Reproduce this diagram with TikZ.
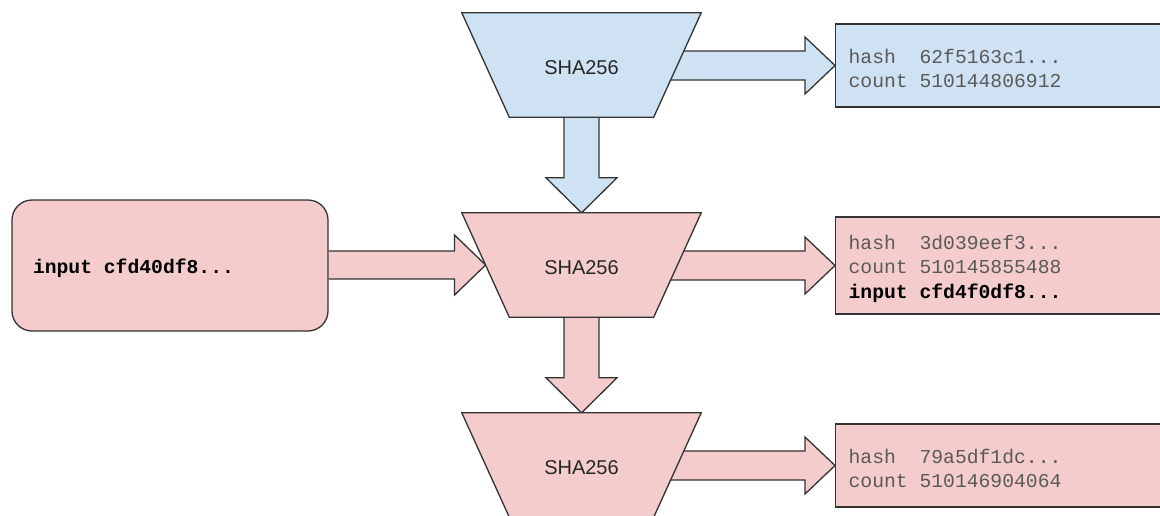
\documentclass[tikz,border=0pt]{standalone}
\usepackage{fontspec}
\setmainfont{Liberation Sans}
\newfontfamily\codefont{Liberation Mono}
\usetikzlibrary{calc,backgrounds}
\definecolor{bluefill}{HTML}{CFE2F3}
\definecolor{redfill}{HTML}{F4CCCC}
\definecolor{edge}{HTML}{333333}
\definecolor{codegray}{HTML}{5A5A5A}
% one full character cell of the monospaced font
\newcommand\monosp{\hspace*{0.6em}}
% taller first line, so the text block sits a little low in its box
\newcommand\firstlinestrut{\rule{0pt}{20.5pt}}
% hashing stage drawn as a funnel-shaped trapezoid behind its label node
\newcommand\hashtrap[2]{%
  \path[shapeedge, fill=#2] (#1.north west) -- (#1.north east)
    -- ([xshift=-47.5pt]#1.south east) -- ([xshift=47.5pt]#1.south west) -- cycle;}
\begin{document}
\begin{tikzpicture}[x=1pt,y=-1pt,
  shapeedge/.style={draw=edge, line width=1.3pt, line join=miter},
  hashstage/.style={minimum width=239pt, minimum height=104pt, inner sep=0pt,
    text height=18pt, text depth=0pt,
    font=\fontsize{20}{24}\selectfont, text=black!85},
  outbox/.style={shapeedge, anchor=west, text width=314pt, inner xsep=13pt,
    inner ysep=0pt, align=left, font=\codefont\fontsize{19.7}{24.6}\selectfont,
    text=codegray, execute at begin node=\firstlinestrut},
  inbox/.style={shapeedge, fill=redfill, rounded corners=20pt,
    minimum width=316pt, minimum height=131pt, text width=274pt,
    inner xsep=21pt, align=left, font=\codefont\bfseries\fontsize{19.7}{24}\selectfont,
    execute at begin node=\firstlinestrut}
]
\useasboundingbox (0,0) rectangle (1160,515);

% hashing stages
\node[hashstage] (h1) at (581.5,65)  {SHA256};
\node[hashstage] (h2) at (581.5,265) {SHA256};
\node[hashstage] (h3) at (581.5,465) {SHA256};

% input record
\node[inbox] (in) at (170,265.5) {input\monosp cfd40df8...};

% output records
\node[outbox, fill=bluefill, minimum height=83pt] (o1) at (835,65.5)
  {hash\monosp\monosp 62f5163c1...\\count\monosp 510144806912};
\node[outbox, fill=redfill, minimum height=97pt] (o2) at (835,265.5)
  {hash\monosp\monosp 3d039eef3...\\count\monosp 510145855488\\{\color{black}\bfseries input\monosp cfd4f0df8...}};
\node[outbox, fill=redfill, minimum height=83pt] (o3) at (835,465.5)
  {hash\monosp\monosp 79a5df1dc...\\count\monosp 510146904064};

\begin{scope}[on background layer]
  % block arrows between stages
  \draw[shapeedge, fill=bluefill] let \p1=(h1.south), \p2=(h2.north) in
    (\x1-17.5pt,\y1) -- (\x1-17.5pt,\y2+35pt) -- (\x1-35.5pt,\y2+35pt) -- (\x1,\y2)
    -- (\x1+35.5pt,\y2+35pt) -- (\x1+17.5pt,\y2+35pt) -- (\x1+17.5pt,\y1);
  \draw[shapeedge, fill=redfill] let \p1=(h2.south), \p2=(h3.north) in
    (\x1-17.5pt,\y1) -- (\x1-17.5pt,\y2+35pt) -- (\x1-35.5pt,\y2+35pt) -- (\x1,\y2)
    -- (\x1+35.5pt,\y2+35pt) -- (\x1+17.5pt,\y2+35pt) -- (\x1+17.5pt,\y1);

  % block arrows to the output records
  \draw[shapeedge, fill=bluefill] let \p1=(h1.center), \p2=(o1.west) in
    (\x1,\y2+14.5pt) -- (\x2-30pt,\y2+14.5pt) -- (\x2-30pt,\y2+28.5pt) -- (\x2,\y2)
    -- (\x2-30pt,\y2-28.5pt) -- (\x2-30pt,\y2-14.5pt) -- (\x1,\y2-14.5pt);
  \draw[shapeedge, fill=redfill] let \p1=(h2.center), \p2=(o2.west) in
    (\x1,\y2+14.5pt) -- (\x2-30pt,\y2+14.5pt) -- (\x2-30pt,\y2+28.5pt) -- (\x2,\y2)
    -- (\x2-30pt,\y2-28.5pt) -- (\x2-30pt,\y2-14.5pt) -- (\x1,\y2-14.5pt);
  \draw[shapeedge, fill=redfill] let \p1=(h3.center), \p2=(o3.west) in
    (\x1,\y2+14.5pt) -- (\x2-30pt,\y2+14.5pt) -- (\x2-30pt,\y2+28.5pt) -- (\x2,\y2)
    -- (\x2-30pt,\y2-28.5pt) -- (\x2-30pt,\y2-14.5pt) -- (\x1,\y2-14.5pt);

  % block arrow from the input record into the second stage
  \draw[shapeedge, fill=redfill] let \p1=(in.east),
      \p2=($(h2.north west)!0.5!([xshift=47.5pt]h2.south west)$) in
    (\x1,\y2+14pt) -- (\x2-31pt,\y2+14pt) -- (\x2-31pt,\y2+30pt) -- (\x2,\y2)
    -- (\x2-31pt,\y2-30pt) -- (\x2-31pt,\y2-14pt) -- (\x1,\y2-14pt);

  % stage outlines on top of the arrow tails
  \hashtrap{h1}{bluefill}
  \hashtrap{h2}{redfill}
  \hashtrap{h3}{redfill}
\end{scope}
\end{tikzpicture}
\end{document}
